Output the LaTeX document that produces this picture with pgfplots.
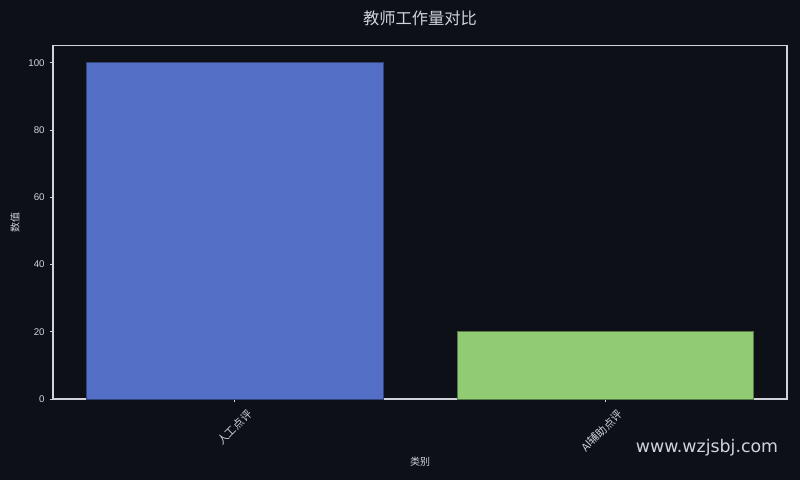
\documentclass[border=0pt]{standalone}
\usepackage{pgfplots}
\pgfplotsset{compat=1.18}
\usepackage{fontspec}
\setmainfont{Liberation Sans}
\newfontfamily\cjk{Noto Sans CJK SC}
\newfontfamily\wm{DejaVu Sans}
\definecolor{bg}{HTML}{0D1017}
\definecolor{fg}{HTML}{D0D4DA}
\definecolor{bblue}{HTML}{5470C6}
\definecolor{bgreen}{HTML}{91CC75}
\begin{document}
\begin{tikzpicture}[x=0.72pt,y=0.72pt]
\fill[bg] (0,0) rectangle (800,480);
\useasboundingbox (0,0) rectangle (800,480);
\begin{axis}[
  at={(38.16pt,58.32pt)}, anchor=south west,
  scale only axis, width=528.5pt, height=254.2pt,
  xmin=-0.49, xmax=1.49, ymin=0, ymax=105,
  ybar, bar width=0.8, bar shift=0pt,
  xtick={0,1}, xticklabels={{\cjk 人工点评},{\cjk AI辅助点评}},
  ytick={0,20,40,60,80,100},
  axis line style={fg, line width=0.8pt},
  tick style={fg, line width=0.6pt},
  major tick length=2.5pt, tick align=outside,
  xtick pos=bottom, ytick pos=left,
  ticklabel style={font=\fontsize{7}{8}\selectfont, text=fg},
  xticklabel style={font=\fontsize{7.8}{9}\selectfont, xshift=8.5pt, yshift=-2pt, rotate=45, anchor=north east, inner sep=1.5pt},
  /pgf/number format/assume math mode=true,
  axis background/.style={fill=bg},
]
\addplot[fill=bblue, draw=bblue!60!black, line width=0.6pt] coordinates {(0,100)};
\addplot[fill=bgreen, draw=bgreen!60!black, line width=0.6pt] coordinates {(1,20)};
\end{axis}
\node[font=\cjk\fontsize{11.7}{14}\selectfont, text=fg] at (420,462) {教师工作量对比};
\node[rotate=90, font=\cjk\fontsize{7.2}{9}\selectfont, text=fg] at (15,257) {数值};
\node[font=\cjk\fontsize{7.2}{9}\selectfont, text=fg] at (420,18) {类别};
\node[font=\wm\fontsize{12.5}{15}\selectfont, text=fg] at (707,32) {www.wzjsbj.com};
\end{tikzpicture}
\end{document}
